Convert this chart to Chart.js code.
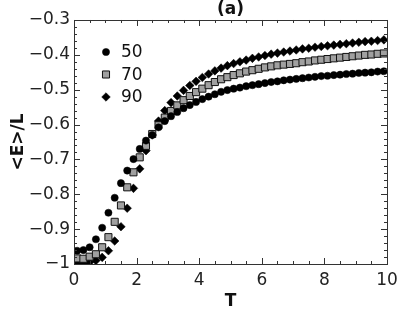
<!DOCTYPE html>
<html>
<head>
<meta charset="utf-8">
<script src="https://cdn.jsdelivr.net/npm/chart.js@4.4.1/dist/chart.umd.min.js"></script>
<style>
  html, body { margin: 0; padding: 0; background: #fff; }
  #wrap { width: 415px; height: 313px; }
</style>
</head>
<body>
<div id="wrap"><canvas id="c" width="415" height="313"></canvas></div>
<script>
// temperatures (x) and energy per site for the three sizes
const temps = [0.1, 0.3, 0.5, 0.7, 0.9, 1.1, 1.3, 1.5, 1.7, 1.9,
               2.1, 2.3, 2.5, 2.7, 2.9, 3.1, 3.3, 3.5, 3.7, 3.9,
               4.1, 4.3, 4.5, 4.7, 4.9, 5.1, 5.3, 5.5, 5.7, 5.9,
               6.1, 6.3, 6.5, 6.7, 6.9, 7.1, 7.3, 7.5, 7.7, 7.9,
               8.1, 8.3, 8.5, 8.7, 8.9, 9.1, 9.3, 9.5, 9.7, 9.9];

const energy50 = [-0.962, -0.960, -0.952, -0.929, -0.896, -0.853, -0.810, -0.768, -0.732, -0.699,
                  -0.670, -0.646, -0.630, -0.608, -0.590, -0.576, -0.564, -0.553, -0.544, -0.535,
                  -0.527, -0.520, -0.513, -0.506, -0.501, -0.497, -0.494, -0.490, -0.487, -0.484,
                  -0.481, -0.478, -0.476, -0.473, -0.471, -0.469, -0.467, -0.465, -0.463, -0.461,
                  -0.460, -0.458, -0.457, -0.455, -0.454, -0.452, -0.451, -0.450, -0.448, -0.447];

const energy70 = [-0.984, -0.985, -0.979, -0.972, -0.952, -0.923, -0.879, -0.832, -0.780, -0.737,
                  -0.694, -0.661, -0.627, -0.602, -0.580, -0.561, -0.545, -0.530, -0.518, -0.507,
                  -0.497, -0.487, -0.478, -0.470, -0.464, -0.458, -0.453, -0.448, -0.444, -0.440,
                  -0.436, -0.433, -0.430, -0.428, -0.426, -0.424, -0.421, -0.419, -0.416, -0.414,
                  -0.412, -0.410, -0.408, -0.406, -0.404, -0.402, -0.400, -0.399, -0.397, -0.396];

const energy90 = [-0.998, -0.998, -0.995, -0.990, -0.981, -0.962, -0.934, -0.893, -0.840, -0.783,
                  -0.727, -0.675, -0.630, -0.590, -0.560, -0.537, -0.518, -0.502, -0.488, -0.476,
                  -0.465, -0.455, -0.446, -0.438, -0.431, -0.425, -0.420, -0.415, -0.410, -0.406,
                  -0.402, -0.398, -0.395, -0.392, -0.389, -0.386, -0.383, -0.381, -0.378, -0.376,
                  -0.374, -0.372, -0.370, -0.368, -0.366, -0.364, -0.362, -0.361, -0.359, -0.357];

const sizes = ['50', '70', '90'];
const xTicks = [0, 2, 4, 6, 8, 10];
const yTicks = [-1, -0.9, -0.8, -0.7, -0.6, -0.5, -0.4, -0.3];

const FONT = '"DejaVu Sans", sans-serif';

const toPoints = ys => ys.map((v, i) => ({ x: temps[i], y: v }));
const fmt = v => v < 0 ? '\u2212' + Math.abs(v) : String(v);

// matplotlib-like frame with inward ticks on all four sides
const frameTicks = {
    id: 'frameTicks',
    afterDraw(chart) {
        const { ctx, chartArea: a, scales: { x, y } } = chart;
        ctx.save();
        ctx.strokeStyle = '#333';
        ctx.lineWidth = 1;
        ctx.beginPath();
        for (let i = 0; i <= 20; i++) {
            const px = Math.round(x.getPixelForValue(i * 0.5)) + 0.5;
            const len = i % 4 === 0 ? 6 : 3;
            ctx.moveTo(px, a.bottom); ctx.lineTo(px, a.bottom - len);
            ctx.moveTo(px, a.top); ctx.lineTo(px, a.top + len);
        }
        for (let i = 0; i <= 35; i++) {
            const py = Math.round(y.getPixelForValue(-1 + i * 0.02)) + 0.5;
            const len = i % 5 === 0 ? 6 : 3;
            ctx.moveTo(a.left, py); ctx.lineTo(a.left + len, py);
            ctx.moveTo(a.right, py); ctx.lineTo(a.right - len, py);
        }
        ctx.stroke();
        ctx.strokeRect(Math.round(a.left) + 0.5, Math.round(a.top) + 0.5,
                       Math.round(a.width), Math.round(a.height));
        ctx.restore();
    }
};

// legend drawn inside the plot, top left
const innerLegend = {
    id: 'innerLegend',
    afterDraw(chart) {
        const { ctx, chartArea: a } = chart;
        ctx.save();
        ctx.font = '17px ' + FONT;
        ctx.textBaseline = 'middle';
        chart.data.datasets.forEach((ds, i) => {
            const cy = a.top + 32 + i * 22.5;
            ctx.fillStyle = ds.pointBackgroundColor;
            ctx.strokeStyle = ds.pointBorderColor;
            ctx.lineWidth = ds.pointBorderWidth;
            Chart.helpers.drawPoint(ctx, {
                pointStyle: ds.pointStyle, radius: ds.pointRadius,
                borderWidth: ds.pointBorderWidth, rotation: 0
            }, a.left + 32, cy);
            ctx.fillStyle = '#111';
            ctx.fillText(ds.label, a.left + 47, cy + 1);
        });
        ctx.restore();
    }
};

new Chart(document.getElementById('c'), {
    type: 'scatter',
    data: {
        datasets: [
            { label: sizes[0], data: toPoints(energy50), pointStyle: 'circle', pointRadius: 3.6,
              pointBackgroundColor: '#000', pointBorderColor: '#000', pointBorderWidth: 0.5, clip: 0 },
            { label: sizes[1], data: toPoints(energy70), pointStyle: 'rect', pointRadius: 5,
              pointBackgroundColor: '#a0a0a0', pointBorderColor: '#111', pointBorderWidth: 1, clip: 0 },
            { label: sizes[2], data: toPoints(energy90), pointStyle: 'rectRot', pointRadius: 4.3,
              pointBackgroundColor: '#000', pointBorderColor: '#000', pointBorderWidth: 0.5, clip: 0 }
        ]
    },
    options: {
        responsive: false,
        animation: false,
        layout: { padding: { left: 0, right: 28, top: 0, bottom: 0 } },
        plugins: {
            legend: { display: false },
            tooltip: { enabled: false },
            title: {
                display: true, text: '(a)', fullSize: false, color: '#111',
                font: { family: FONT, size: 17, weight: 'bold', lineHeight: 1.176 },
                padding: 0
            }
        },
        scales: {
            x: {
                type: 'linear', min: 0, max: 10,
                afterBuildTicks: s => { s.ticks = xTicks.map(v => ({ value: v })); },
                afterFit: s => { s.height = 49; },
                grid: { display: false, drawTicks: false },
                border: { display: false },
                ticks: { font: { family: FONT, size: 17 }, color: '#222', padding: 6,
                         maxRotation: 0, autoSkip: false, callback: fmt },
                title: { display: true, text: 'T', color: '#111',
                         font: { family: FONT, size: 17, weight: 'bold' }, padding: { top: 0, bottom: 1 } }
            },
            y: {
                type: 'linear', min: -1, max: -0.3,
                afterBuildTicks: s => { s.ticks = yTicks.map(v => ({ value: v })); },
                afterFit: s => { s.width = 74; },
                grid: { display: false, drawTicks: false },
                border: { display: false },
                ticks: { font: { family: FONT, size: 17 }, color: '#222', padding: 4,
                         autoSkip: false, callback: fmt },
                title: { display: true, text: '<E>/L', color: '#111',
                         font: { family: FONT, size: 17, weight: 'bold' }, padding: { top: 8, bottom: 0 } }
            }
        }
    },
    plugins: [frameTicks, innerLegend]
});
</script>
</body>
</html>
